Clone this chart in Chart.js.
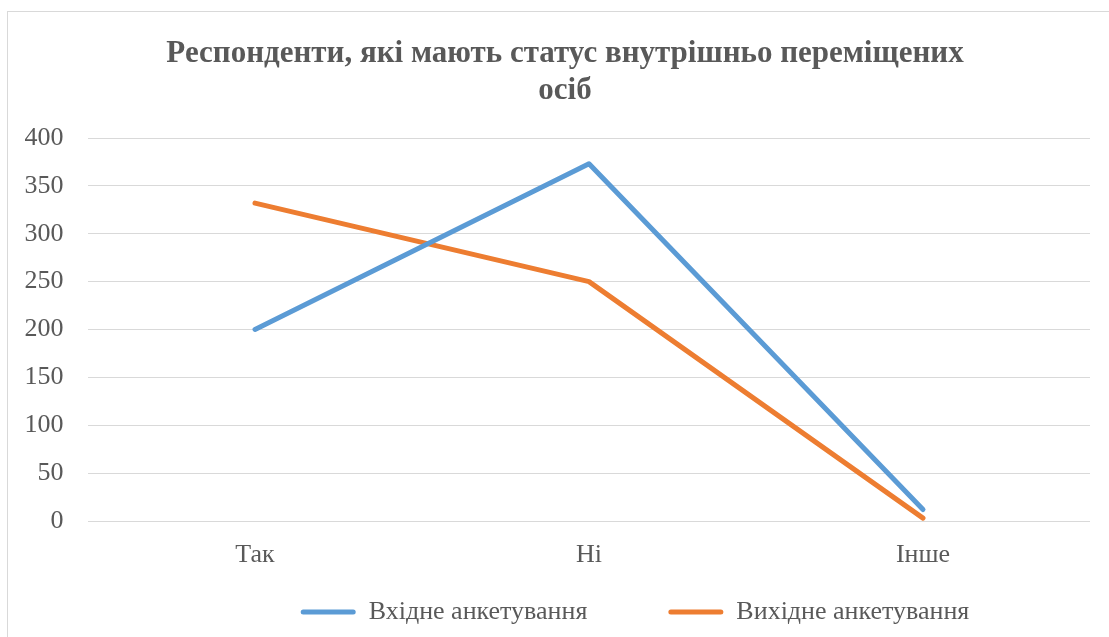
<!DOCTYPE html>
<html>
<head>
<meta charset="utf-8">
<script src="https://cdn.jsdelivr.net/npm/chart.js@4.4.1/dist/chart.umd.min.js"></script>
<style>
  html, body { margin: 0; padding: 0; background: #ffffff; overflow: hidden; width: 1109px; height: 637px; }
  #frame { position: absolute; left: 7px; top: 11px; width: 1200px; height: 700px; border: 1px solid #d9d9d9; box-sizing: border-box; }
  #wrap { position: absolute; left: 0; top: 0; width: 1126px; height: 637px; }
</style>
</head>
<body>
<div id="frame"></div>
<div id="wrap"><canvas id="c" width="1126" height="637"></canvas></div>
<script>
const categories = ['Так', 'Ні', 'Інше'];
const seriesNames = ['Вхідне анкетування', 'Вихідне анкетування'];
const entrySurvey = [200, 373, 12];
const exitSurvey = [332, 250, 3];
const yTicks = [0, 50, 100, 150, 200, 250, 300, 350, 400];
const titleLines = ['Респонденти, які мають статус внутрішньо переміщених', 'осіб'];

const colors = ['#5B9BD5', '#ED7D31'];
const textColor = '#595959';
const serif = "'Liberation Serif', 'Times New Roman', serif";

// place title and legend blocks like the original Excel chart
const blockShift = {
  id: 'blockShift',
  afterLayout(chart) {
    if (chart.titleBlock) {
      chart.titleBlock.left += 20;
      chart.titleBlock.right += 20;
    }
    if (chart.legend) {
      chart.legend.left += 46;
      chart.legend.right += 46;
      chart.legend.top -= 71;
    }
  }
};

new Chart(document.getElementById('c'), {
  type: 'line',
  data: {
    labels: categories,
    datasets: [
      { label: seriesNames[0], data: entrySurvey },
      { label: seriesNames[1], data: exitSurvey }
    ].map((d, i) => Object.assign(d, {
      borderColor: colors[i],
      backgroundColor: colors[i],
      borderWidth: 5,
      borderCapStyle: 'round',
      borderJoinStyle: 'round',
      pointRadius: 0,
      pointHoverRadius: 0,
      tension: 0,
      fill: false
    }))
  },
  options: {
    responsive: false,
    animation: false,
    layout: { padding: { left: 0, right: 36, top: 0, bottom: 1 } },
    plugins: {
      tooltip: { enabled: false },
      title: {
        display: true,
        text: titleLines,
        color: textColor,
        font: { family: serif, size: 31, weight: 'bold', lineHeight: 1.2 },
        padding: { top: 35, bottom: 28.6 }
      },
      legend: {
        display: true,
        position: 'bottom',
        fullSize: false,
        maxHeight: 47,
        labels: {
          color: textColor,
          font: { family: serif, size: 26 },
          boxWidth: 55,
          boxHeight: 5,
          padding: 81,
          useBorderRadius: true,
          borderRadius: 2.5,
          generateLabels(chart) {
            return chart.data.datasets.map((ds, i) => ({
              text: ds.label,
              fillStyle: ds.borderColor,
              strokeStyle: ds.borderColor,
              lineWidth: 0,
              fontColor: textColor,
              hidden: false,
              datasetIndex: i,
              borderRadius: 2.5
            }));
          }
        }
      }
    },
    scales: {
      x: {
        type: 'category',
        offset: true,
        grid: { display: false, drawTicks: false },
        border: { display: false },
        ticks: { color: textColor, font: { family: serif, size: 26, lineHeight: 1.2 }, padding: 18.4, maxRotation: 0 }
      },
      y: {
        min: yTicks[0],
        max: yTicks[yTicks.length - 1],
        grid: { color: '#d9d9d9', lineWidth: 1, drawTicks: false },
        border: { display: false },
        afterBuildTicks(scale) { scale.ticks = yTicks.map(v => ({ value: v })); },
        ticks: { color: textColor, font: { family: serif, size: 26 }, padding: 24.5 }
      }
    }
  },
  plugins: [blockShift]
});
</script>
</body>
</html>
